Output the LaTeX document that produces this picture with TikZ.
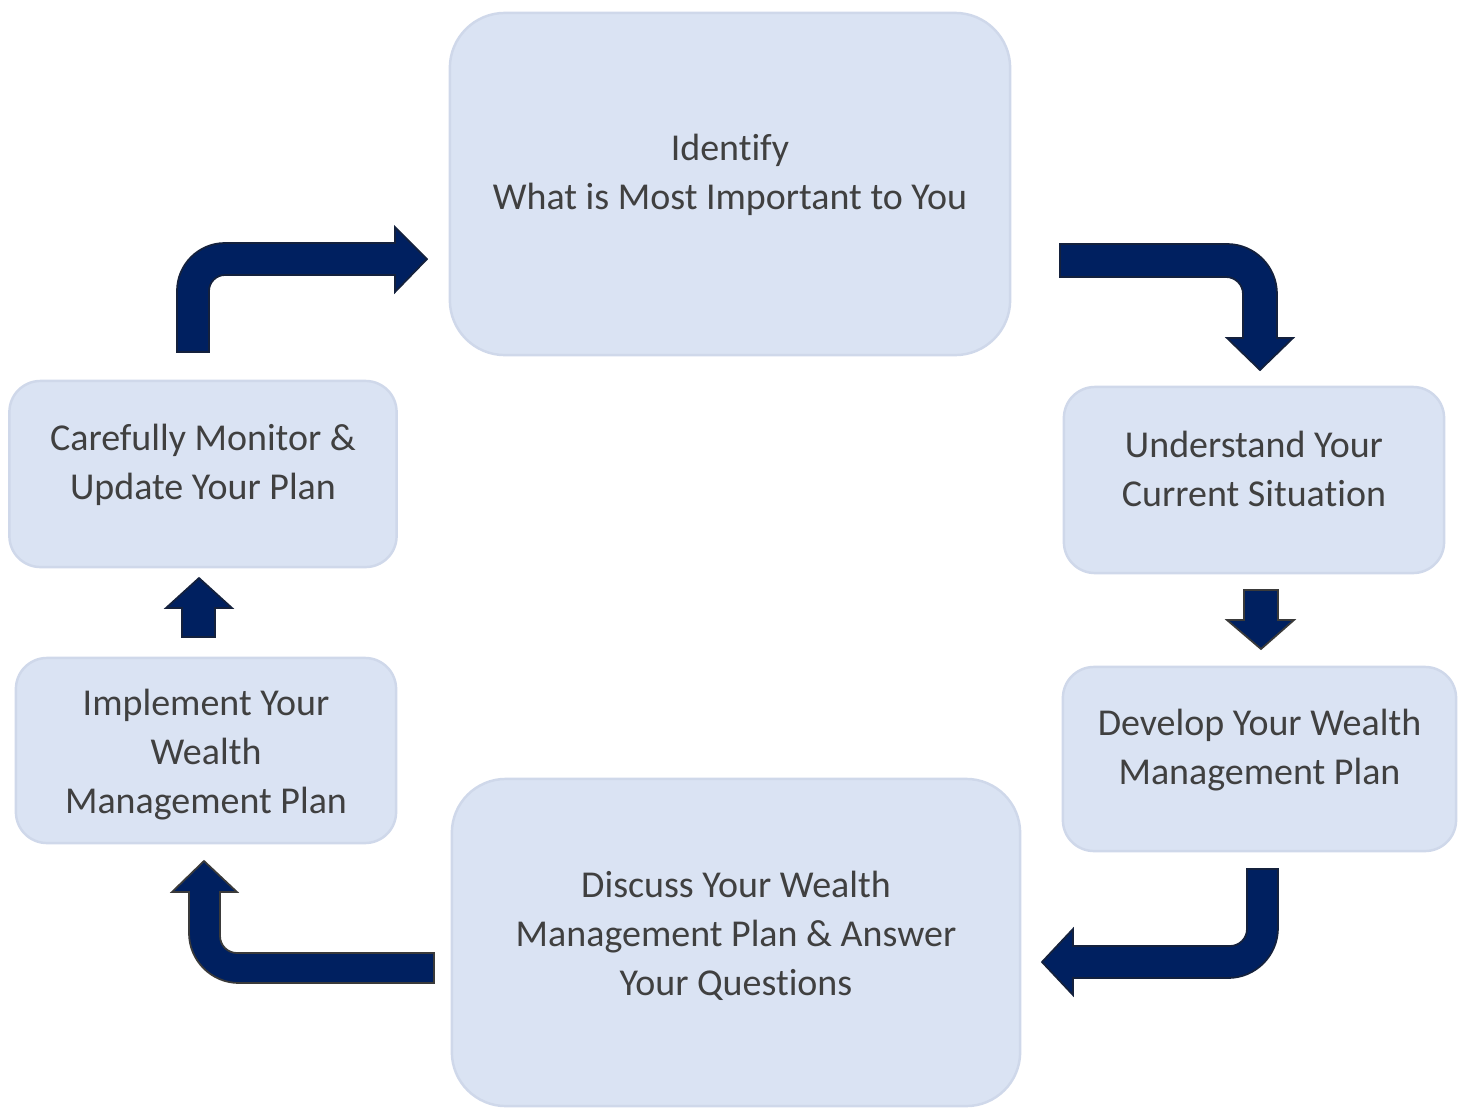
\documentclass[tikz,border=0pt]{standalone}
\usepackage{fontspec}
\setmainfont{Carlito}[Ligatures=CommonOff]
\usepackage{tikz}
\usetikzlibrary{positioning}
\definecolor{boxfill}{HTML}{DAE3F3}
\definecolor{boxline}{HTML}{CFD8EA}
\definecolor{txtgray}{HTML}{404040}
\definecolor{navy}{HTML}{002060}
\definecolor{navyline}{HTML}{14213D}
\definecolor{grayline}{HTML}{3A3A3A}

\begin{document}
\begin{tikzpicture}[line cap=round,line join=round,x=0.01cm,y=-0.01cm,
  step box/.style={draw=boxline,line width=0.7pt,fill=boxfill,rounded corners=0.31cm,inner sep=0pt},
  step text/.style={align=center,text=txtgray,font=\fontsize{10.8}{13.9}\selectfont,inner sep=0pt},
  blockarrow/.style={fill=navy,draw=navyline,line width=0.5pt,line join=miter},
  blockarrow gray/.style={blockarrow,draw=grayline}]
\useasboundingbox (0,0) rectangle (1465,1108);
\node[step box,minimum width=5.60cm,minimum height=3.42cm,rounded corners=0.55cm] (ident) at (730,184) {};
\node[step box,minimum width=3.80cm,minimum height=1.86cm] (underst) at (1254,480) {};
\node[step box,minimum width=3.93cm,minimum height=1.84cm] (develop) at (1259.5,759) {};
\node[step box,minimum width=5.68cm,minimum height=3.27cm,rounded corners=0.54cm] (discuss) at (736,942.5) {};
\node[step box,minimum width=3.80cm,minimum height=1.85cm] (implem) at (206,750.5) {};
\node[step box,minimum width=3.87cm,minimum height=1.86cm] (monitor) at (203,474) {};
\node[step text] (ident text) at ([yshift=0.09cm]ident.center) {Identify\\What is Most Important to You};
\node[step text] (underst text) at ([yshift=0.11cm]underst.center) {Understand Your\\Current Situation};
\node[step text] (develop text) at ([yshift=0.09cm]develop.center) {Develop Your Wealth\\Management Plan};
\node[step text] (discuss text) at ([yshift=0.07cm]discuss.center) {Discuss Your Wealth\\Management Plan \& Answer\\Your Questions};
\node[step text] (implem text) at ([yshift=-0.04cm]implem.center) {Implement Your\\Wealth\\Management Plan};
\node[step text] (monitor text) at ([yshift=0.09cm]monitor.center) {Carefully Monitor \&\\Update Your Plan};
\draw[blockarrow] (177,352) -- (177,291) arc[start angle=180,end angle=270,radius=48] -- (395,243) -- (395,227) -- (427,259) -- (395,292) -- (395,275) -- (225,275) arc[start angle=270,end angle=180,radius=16] -- (209,352) -- cycle;
\draw[blockarrow] (1060,244) -- (1227,244) arc[start angle=270,end angle=360,radius=50] -- (1277,338) -- (1293,338) -- (1260,370) -- (1227,338) -- (1243,338) -- (1243,294) arc[start angle=0,end angle=-90,radius=17] -- (1060,277) -- cycle;
\draw[blockarrow gray] (1244,590) -- (1278,590) -- (1278,620) -- (1294,620) -- (1261,649) -- (1227,620) -- (1244,620) -- cycle;
\draw[blockarrow] (1247,869) -- (1278,869) -- (1278,928) arc[start angle=0,end angle=90,radius=50] -- (1073,978) -- (1073,995) -- (1042,962) -- (1073,929) -- (1073,946) -- (1230,946) arc[start angle=90,end angle=0,radius=17] -- cycle;
\draw[blockarrow gray] (434,953) -- (434,983) -- (239,983) arc[start angle=90,end angle=180,radius=50] -- (189,892) -- (172,892) -- (204,861) -- (237,892) -- (220,892) -- (220,936) arc[start angle=180,end angle=90,radius=17] -- cycle;
\draw[blockarrow] (182,637) -- (182,608) -- (166,608) -- (199,578) -- (232,608) -- (215,608) -- (215,637) -- cycle;
\end{tikzpicture}
\end{document}
